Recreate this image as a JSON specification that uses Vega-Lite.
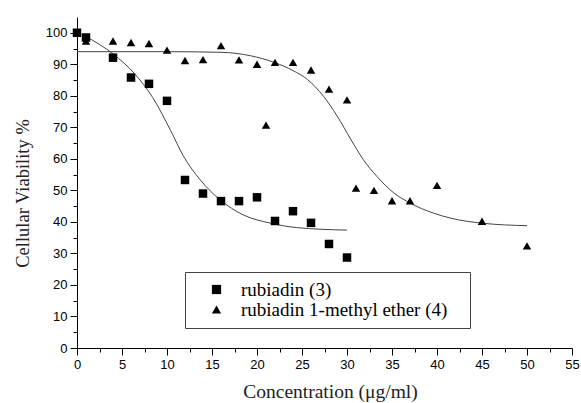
{
  "$schema": "https://vega.github.io/schema/vega-lite/v6.json",
  "width": 495,
  "height": 331,
  "autosize": {"type": "none"},
  "padding": {"left": 77, "top": 17, "right": 9, "bottom": 55},
  "background": "white",
  "config": {"view": {"stroke": null}, "font": "Liberation Sans"},
  "datasets": {
    "points": [
      {"compound": "rubiadin (3)", "conc": 0, "viability": 100},
      {"compound": "rubiadin (3)", "conc": 1, "viability": 98.5},
      {"compound": "rubiadin (3)", "conc": 4, "viability": 92.1},
      {"compound": "rubiadin (3)", "conc": 6, "viability": 85.8},
      {"compound": "rubiadin (3)", "conc": 8, "viability": 83.8},
      {"compound": "rubiadin (3)", "conc": 10, "viability": 78.4},
      {"compound": "rubiadin (3)", "conc": 12, "viability": 53.3},
      {"compound": "rubiadin (3)", "conc": 14, "viability": 49},
      {"compound": "rubiadin (3)", "conc": 16, "viability": 46.6},
      {"compound": "rubiadin (3)", "conc": 18, "viability": 46.6},
      {"compound": "rubiadin (3)", "conc": 20, "viability": 47.8},
      {"compound": "rubiadin (3)", "conc": 22, "viability": 40.3},
      {"compound": "rubiadin (3)", "conc": 24, "viability": 43.4},
      {"compound": "rubiadin (3)", "conc": 26, "viability": 39.7},
      {"compound": "rubiadin (3)", "conc": 28, "viability": 33},
      {"compound": "rubiadin (3)", "conc": 30, "viability": 28.7},
      {"compound": "rubiadin 1-methyl ether (4)", "conc": 1, "viability": 97.4},
      {"compound": "rubiadin 1-methyl ether (4)", "conc": 4, "viability": 97.4},
      {"compound": "rubiadin 1-methyl ether (4)", "conc": 6, "viability": 96.9},
      {"compound": "rubiadin 1-methyl ether (4)", "conc": 8, "viability": 96.6},
      {"compound": "rubiadin 1-methyl ether (4)", "conc": 10, "viability": 94.5},
      {"compound": "rubiadin 1-methyl ether (4)", "conc": 12, "viability": 91.2},
      {"compound": "rubiadin 1-methyl ether (4)", "conc": 14, "viability": 91.5},
      {"compound": "rubiadin 1-methyl ether (4)", "conc": 16, "viability": 95.9},
      {"compound": "rubiadin 1-methyl ether (4)", "conc": 18, "viability": 91.4},
      {"compound": "rubiadin 1-methyl ether (4)", "conc": 20, "viability": 90},
      {"compound": "rubiadin 1-methyl ether (4)", "conc": 21, "viability": 70.7},
      {"compound": "rubiadin 1-methyl ether (4)", "conc": 22, "viability": 90.6},
      {"compound": "rubiadin 1-methyl ether (4)", "conc": 24, "viability": 90.6},
      {"compound": "rubiadin 1-methyl ether (4)", "conc": 26, "viability": 88.2},
      {"compound": "rubiadin 1-methyl ether (4)", "conc": 28, "viability": 82.1},
      {"compound": "rubiadin 1-methyl ether (4)", "conc": 30, "viability": 78.7},
      {"compound": "rubiadin 1-methyl ether (4)", "conc": 31, "viability": 50.7},
      {"compound": "rubiadin 1-methyl ether (4)", "conc": 33, "viability": 50},
      {"compound": "rubiadin 1-methyl ether (4)", "conc": 35, "viability": 46.7},
      {"compound": "rubiadin 1-methyl ether (4)", "conc": 37, "viability": 46.7},
      {"compound": "rubiadin 1-methyl ether (4)", "conc": 40, "viability": 51.6},
      {"compound": "rubiadin 1-methyl ether (4)", "conc": 45, "viability": 40.2},
      {"compound": "rubiadin 1-methyl ether (4)", "conc": 50, "viability": 32.4}
    ],
    "fits": [
      {"fit": "A", "conc": 1, "viability": 98.8},
      {"fit": "A", "conc": 4, "viability": 93.3},
      {"fit": "A", "conc": 6.4, "viability": 87},
      {"fit": "A", "conc": 8.4, "viability": 79.5},
      {"fit": "A", "conc": 10.4, "viability": 69},
      {"fit": "A", "conc": 11.8, "viability": 61},
      {"fit": "A", "conc": 13.7, "viability": 53.3},
      {"fit": "A", "conc": 15.9, "viability": 47},
      {"fit": "A", "conc": 18.5, "viability": 42.2},
      {"fit": "A", "conc": 21.5, "viability": 39.6},
      {"fit": "A", "conc": 24.4, "viability": 38.2},
      {"fit": "A", "conc": 30, "viability": 37.4},
      {"fit": "B", "conc": 0, "viability": 94},
      {"fit": "B", "conc": 10, "viability": 94},
      {"fit": "B", "conc": 16, "viability": 93.8},
      {"fit": "B", "conc": 19.3, "viability": 92.7},
      {"fit": "B", "conc": 22, "viability": 90.5},
      {"fit": "B", "conc": 24, "viability": 88},
      {"fit": "B", "conc": 25.6, "viability": 85.2},
      {"fit": "B", "conc": 27.4, "viability": 79.8},
      {"fit": "B", "conc": 28.9, "viability": 73.6},
      {"fit": "B", "conc": 30.4, "viability": 66.3},
      {"fit": "B", "conc": 31.8, "viability": 59.8},
      {"fit": "B", "conc": 33.3, "viability": 54.5},
      {"fit": "B", "conc": 35.2, "viability": 49.2},
      {"fit": "B", "conc": 37, "viability": 46},
      {"fit": "B", "conc": 39.6, "viability": 42.8},
      {"fit": "B", "conc": 41.5, "viability": 41.2},
      {"fit": "B", "conc": 45, "viability": 39.6},
      {"fit": "B", "conc": 50, "viability": 38.8}
    ]
  },
  "encoding": {
    "x": {
      "field": "conc",
      "type": "quantitative",
      "scale": {"domain": [0, 55], "nice": false, "zero": false},
      "axis": {
        "values": [0, 2.5, 5, 7.5, 10, 12.5, 15, 17.5, 20, 22.5, 25, 27.5, 30, 32.5, 35, 37.5, 40, 42.5, 45, 47.5, 50, 52.5, 55],
        "labelExpr": "datum.value % 5 === 0 ? datum.label : ''",
        "tickSize": {"condition": {"test": "datum.value % 5 === 0", "value": 7}, "value": 4},
        "grid": false,
        "domainColor": "black",
        "tickColor": "black",
        "labelColor": "black",
        "labelFont": "Liberation Sans",
        "labelFontSize": 13,
        "labelFlush": false,
        "labelOverlap": false,
        "labelPadding": 3,
        "title": "Concentration (μg/ml)",
        "titleFont": "Liberation Serif",
        "titleFontSize": 19.5,
        "titleFontWeight": "normal",
        "titleColor": "#222",
        "titleX": 253,
        "titleY": 49,
        "titleBaseline": "alphabetic"
      }
    },
    "y": {
      "field": "viability",
      "type": "quantitative",
      "scale": {"domain": [0, 105], "nice": false},
      "axis": {
        "values": [0, 5, 10, 15, 20, 25, 30, 35, 40, 45, 50, 55, 60, 65, 70, 75, 80, 85, 90, 95, 100],
        "labelExpr": "datum.value % 10 === 0 ? datum.label : ''",
        "tickSize": {"condition": {"test": "datum.value % 10 === 0", "value": 7}, "value": 4},
        "grid": false,
        "domainColor": "black",
        "tickColor": "black",
        "labelColor": "black",
        "labelFont": "Liberation Sans",
        "labelFontSize": 13,
        "labelFlush": false,
        "labelOverlap": false,
        "labelPadding": 3,
        "title": "Cellular Viability %",
        "titleFont": "Liberation Serif",
        "titleFontSize": 18.5,
        "titleFontWeight": "normal",
        "titleColor": "#222",
        "titleX": -49,
        "titleY": 176,
        "titleAngle": -90,
        "titleAlign": "center",
        "titleBaseline": "alphabetic"
      }
    }
  },
  "layer": [
    {
      "data": {"name": "fits"},
      "mark": {"type": "line", "interpolate": "monotone", "color": "#444", "strokeWidth": 1},
      "encoding": {"detail": {"field": "fit", "type": "nominal"}}
    },
    {
      "data": {"name": "points"},
      "mark": {"type": "point", "filled": true, "opacity": 1, "color": "black", "clip": false, "size": 72},
      "encoding": {
        "shape": {
          "field": "compound",
          "type": "nominal",
          "scale": {"domain": ["rubiadin (3)", "rubiadin 1-methyl ether (4)"], "range": ["square", "triangle-up"]},
          "legend": {
            "orient": "none",
            "legendX": 108,
            "legendY": 255,
            "title": null,
            "strokeColor": "#444",
            "fillColor": "white",
            "padding": 8,
            "symbolOffset": 14,
            "symbolSize": 85,
            "symbolFillColor": "black",
            "symbolStrokeColor": "black",
            "symbolStrokeWidth": 0,
            "labelFont": "Liberation Serif",
            "labelFontSize": 19,
            "labelColor": "black",
            "labelOffset": 15,
            "labelLimit": 400,
            "rowPadding": 0,
            "labelExpr": "datum.label + '\u2800'"
          }
        }
      }
    }
  ]
}
